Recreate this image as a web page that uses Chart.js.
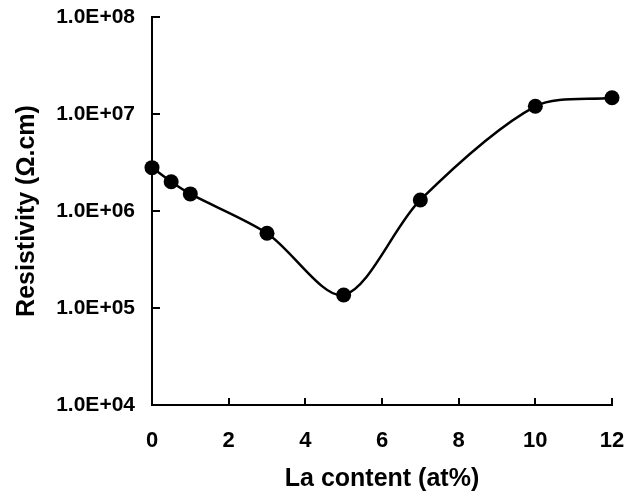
<!DOCTYPE html>
<html>
<head>
<meta charset="utf-8">
<script src="https://cdn.jsdelivr.net/npm/chart.js@4/dist/chart.umd.min.js"></script>
<style>
  html, body { margin: 0; padding: 0; background: #fff; }
  #wrap { width: 635px; height: 496px; }
</style>
</head>
<body>
<div id="wrap"><canvas id="chart" width="635" height="496"></canvas></div>
<script>
// ── DATA ─────────────────────────────────────────────────────────────────────
const laContent   = [0, 0.5, 1, 3, 5, 7, 10, 12];            // at%
const resistivity = [2.8e6, 2.0e6, 1.5e6, 5.9e5, 1.36e5, 1.3e6, 1.2e7, 1.47e7]; // Ω.cm

const yTicks      = [1e4, 1e5, 1e6, 1e7, 1e8];
const yTickLabels = ['1.0E+04', '1.0E+05', '1.0E+06', '1.0E+07', '1.0E+08'];
const xTicks      = [0, 2, 4, 6, 8, 10, 12];

const FONT = '"Liberation Sans", Arial, Helvetica, sans-serif';

const points = laContent.map((x, i) => ({ x, y: resistivity[i] }));

// ── CHART ────────────────────────────────────────────────────────────────────
new Chart(document.getElementById('chart'), {
  type: 'line',
  data: {
    datasets: [{
      data: points,
      borderColor: '#000',
      borderWidth: 2.5,
      backgroundColor: '#000',
      pointBackgroundColor: '#000',
      pointBorderWidth: 0,
      pointRadius: 7.5,
      tension: 0.3,
      fill: false,
      clip: false,
    }]
  },
  options: {
    responsive: false,
    animation: false,
    events: [],
    layout: { padding: { top: 17, right: 23, bottom: 0, left: 0 } },
    plugins: { legend: { display: false }, tooltip: { enabled: false } },
    scales: {
      x: {
        type: 'linear',
        min: 0, max: 12,
        afterBuildTicks: s => { s.ticks = xTicks.map(v => ({ value: v })); },
        afterFit: s => { s.height = 91; s.paddingLeft = 0; s.paddingRight = 0; },
        border: { display: true, color: '#000', width: 2 },
        grid: { drawOnChartArea: false, drawTicks: true, tickLength: -7, color: '#000', lineWidth: 2 },
        ticks: {
          color: '#000',
          padding: 30,
          maxRotation: 0,
          font: { family: FONT, size: 22, weight: 'bold' },
        },
        title: {
          display: true,
          text: 'La content (at%)',
          color: '#000',
          font: { family: FONT, size: 25, weight: 'bold' },
          padding: { top: 0, bottom: 2 },
        }
      },
      y: {
        type: 'logarithmic',
        min: 1e4, max: 1e8,
        afterBuildTicks: s => { s.ticks = yTicks.map(v => ({ value: v })); },
        afterFit: s => { s.width = 152; s.paddingTop = 0; s.paddingBottom = 0; },
        border: { display: true, color: '#000', width: 2 },
        grid: { drawOnChartArea: false, drawTicks: true, tickLength: -8, color: '#000', lineWidth: 2 },
        ticks: {
          color: '#000',
          padding: 25,
          font: { family: FONT, size: 21, weight: 'bold' },
          callback: (v, i) => yTickLabels[i],
        },
        title: {
          display: true,
          text: 'Resistivity (Ω.cm)',
          color: '#000',
          font: { family: FONT, size: 25, weight: 'bold' },
          padding: { top: 12, bottom: 0 },
        }
      }
    }
  }
});
</script>
</body>
</html>
